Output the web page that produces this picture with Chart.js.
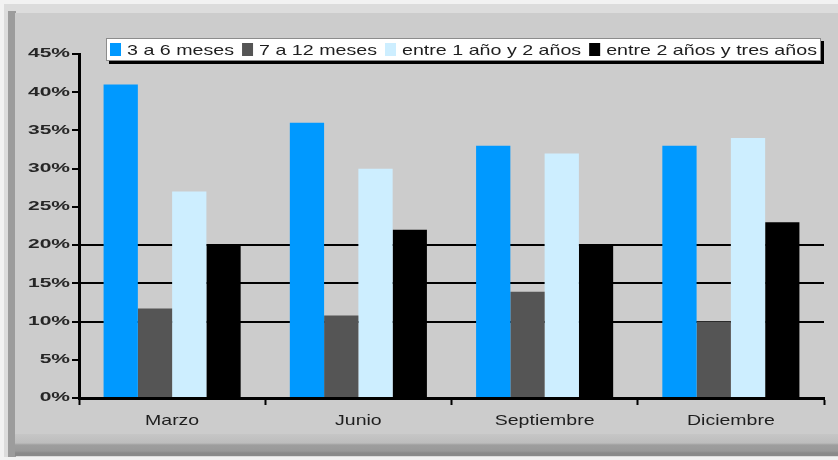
<!DOCTYPE html>
<html>
<head>
<meta charset="utf-8">
<script src="https://cdn.jsdelivr.net/npm/chart.js@4/dist/chart.umd.min.js"></script>
<style>
  html, body { margin: 0; padding: 0; }
  body { width: 838px; height: 460px; position: relative; overflow: hidden; background: #f2f2f2; }
  .frame { position: absolute; left: 4px; top: 4px; width: 840px; height: 453px; background: #dcdcdc; }
  .edge-left { position: absolute; left: 8px; top: 11px; width: 8px; height: 446px; background: #9c9c9c; }
  .panel { position: absolute; left: 15px; top: 13px; width: 830px; height: 421px; background: #cccccc; }
  .edge-bottom { position: absolute; left: 15px; top: 434px; width: 830px; height: 22px;
    background: linear-gradient(#c6c6c6 0px, #bdbdbd 9px, #9e9e9e 11px, #999 17px, #8a8a8a 19px, #8a8a8a 22px); }
  canvas { position: absolute; left: 0; top: 0; }
</style>
</head>
<body>
<div class="frame"></div>
<div class="edge-left"></div>
<div class="panel"></div>
<div class="edge-bottom"></div>
<canvas id="chart" width="838" height="460"></canvas>
<script>
// Antigüedad del desempleo por trimestre (porcentaje)
const categories = ['Marzo', 'Junio', 'Septiembre', 'Diciembre'];
const seriesNames = ['3 a 6 meses', '7 a 12 meses', 'entre 1 año y 2 años', 'entre 2 años y tres años'];
const tresASeisMeses = [41, 36, 33, 33];
const sieteADoceMeses = [11.7, 10.8, 13.9, 10];
const entreUnoYDosAnos = [27, 30, 32, 34];
const entreDosYTresAnos = [20, 22, 20, 23];
const yTickValues = [0, 5, 10, 15, 20, 25, 30, 35, 40, 45];
const seriesColors = ['#0099ff', '#555555', '#cdeeff', '#000000'];

const seriesValues = [tresASeisMeses, sieteADoceMeses, entreUnoYDosAnos, entreDosYTresAnos];
const solidGrid = [10, 15, 20];

// Draws stretched text (the labels are wide and squat)
function wideText(ctx, text, x, y, sx, align) {
  ctx.save();
  ctx.translate(x, y);
  ctx.scale(sx, 1);
  ctx.textAlign = align;
  ctx.fillText(text, 0, 0);
  ctx.restore();
}

const labelsPlugin = {
  id: 'wideLabels',
  afterDraw(chart) {
    const ctx = chart.ctx;
    const xs = chart.scales.x, ys = chart.scales.y;
    ctx.save();
    ctx.fillStyle = '#262626';
    ctx.textBaseline = 'middle';
    ctx.font = 'bold 12px "Liberation Sans", Arial, sans-serif';
    ys.ticks.forEach((t, i) => {
      wideText(ctx, t.value + '%', ys.right - 9, ys.getPixelForTick(i), 1.75, 'right');
    });
    ctx.textBaseline = 'alphabetic';
    ctx.font = '15px "Liberation Sans", Arial, sans-serif';
    ctx.fillStyle = '#1e1e1e';
    xs.ticks.forEach((t, i) => {
      wideText(ctx, chart.data.labels[i], xs.getPixelForTick(i), xs.top + 27, 1.3, 'center');
    });

    // legend box
    const lx = 106, ly = 38, lw = 715, lh = 23;
    const sx = 1.31;
    ctx.fillStyle = '#000';
    ctx.fillRect(lx + 3, ly + 3, lw, lh);
    ctx.fillStyle = '#ffffff';
    ctx.fillRect(lx, ly, lw, lh);
    ctx.strokeStyle = '#8c8c8c';
    ctx.lineWidth = 1;
    ctx.strokeRect(lx + 0.5, ly + 0.5, lw - 1, lh - 1);
    ctx.font = '15px "Liberation Sans", Arial, sans-serif';
    ctx.textBaseline = 'alphabetic';
    let x = lx + 4;
    chart.data.datasets.forEach(ds => {
      ctx.fillStyle = ds.backgroundColor;
      ctx.fillRect(x, ly + 5, 11, 13);
      x += 17;
      ctx.fillStyle = '#1e1e1e';
      wideText(ctx, ds.label, x, ly + 17, sx, 'left');
      x += ctx.measureText(ds.label).width * sx + 8;
    });
    ctx.restore();
  }
};

new Chart(document.getElementById('chart'), {
  type: 'bar',
  data: {
    labels: categories,
    datasets: seriesNames.map((name, i) => ({
      label: name,
      data: seriesValues[i],
      backgroundColor: seriesColors[i],
      borderWidth: 0,
      categoryPercentage: 0.736,
      barPercentage: 1.0
    }))
  },
  options: {
    responsive: false,
    animation: false,
    layout: { padding: { top: 54, right: 14, left: 0, bottom: 0 } },
    plugins: { legend: { display: false }, tooltip: { enabled: false } },
    scales: {
      x: {
        afterFit(scale) { scale.height = 62; },
        ticks: { display: false },
        grid: {
          offset: true,
          drawOnChartArea: false,
          drawTicks: true,
          tickLength: 7,
          tickColor: '#000',
          tickWidth: 2
        },
        border: { color: '#000', width: 3 }
      },
      y: {
        min: 0,
        max: 45,
        afterFit(scale) { scale.width = 79; },
        afterBuildTicks(scale) { scale.ticks = yTickValues.map(v => ({ value: v })); },
        ticks: { display: false },
        grid: {
          color: c => solidGrid.includes(c.tick.value) ? '#000' : 'rgba(0,0,0,0)',
          lineWidth: 2,
          drawTicks: true,
          tickLength: 7,
          tickColor: '#000',
          tickWidth: 2
        },
        border: { color: '#000', width: 3 }
      }
    }
  },
  plugins: [labelsPlugin]
});
</script>
</body>
</html>
